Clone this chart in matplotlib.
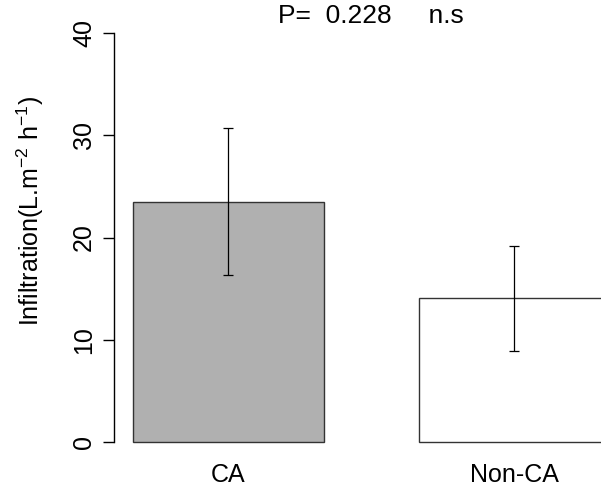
import numpy as np
import matplotlib
matplotlib.use('Agg')
import matplotlib.pyplot as plt

# Data
groups = ['CA', 'Non-CA']
means = [23.5, 14.1]
err_low = [16.3, 8.9]
err_high = [30.7, 19.2]
bar_colors = ['#b0b0b0', 'white']
y_ticks = [0, 10, 20, 30, 40]
p_text = 'P=  0.228     n.s'

plt.rcParams['font.family'] = ['Liberation Sans', 'DejaVu Sans']
plt.rcParams['mathtext.fontset'] = 'custom'
plt.rcParams['mathtext.rm'] = 'Liberation Sans'
plt.rcParams['mathtext.it'] = 'Liberation Sans'

fig = plt.figure(figsize=(6.01, 4.87), dpi=100)
ax = fig.add_axes([114 / 601, 1 - 458.7 / 487, 487 / 601, (458.7 - 16.3) / 487])

x = np.arange(len(groups))
ax.bar(x, means, width=0.667, color=bar_colors, edgecolor='#333333', linewidth=1.0)
ax.errorbar(x, means,
            yerr=[np.array(means) - np.array(err_low), np.array(err_high) - np.array(means)],
            fmt='none', ecolor='black', elinewidth=0.9, capsize=3.5, capthick=0.9)

ax.set_xlim(-0.40, 1.303)
ax.set_ylim(-1.6, 41.6)
ax.set_yticks(y_ticks)
ax.set_yticklabels([str(t) for t in y_ticks], rotation=90, va='center', fontsize=18)
ax.set_xticks(x)
ax.set_xticklabels(groups, fontsize=18)
ax.tick_params(axis='x', length=0, pad=3)
ax.tick_params(axis='y', length=8, width=1, pad=5)

for s in ['top', 'right', 'bottom']:
    ax.spines[s].set_visible(False)
ax.spines['left'].set_bounds(0, 40)
ax.spines['left'].set_linewidth(1)

ax.set_ylabel('Infiltration(L.m$^{-2}$ h$^{-1}$)', fontsize=18, va='center')
ax.yaxis.set_label_coords((30 - 114) / 487, (442.3 - 195) / 442.4)

fig.text(371 / 601, 1 - 16 / 487, p_text, ha='center', va='center', fontsize=19)

fig.savefig('out.png', dpi=100)
